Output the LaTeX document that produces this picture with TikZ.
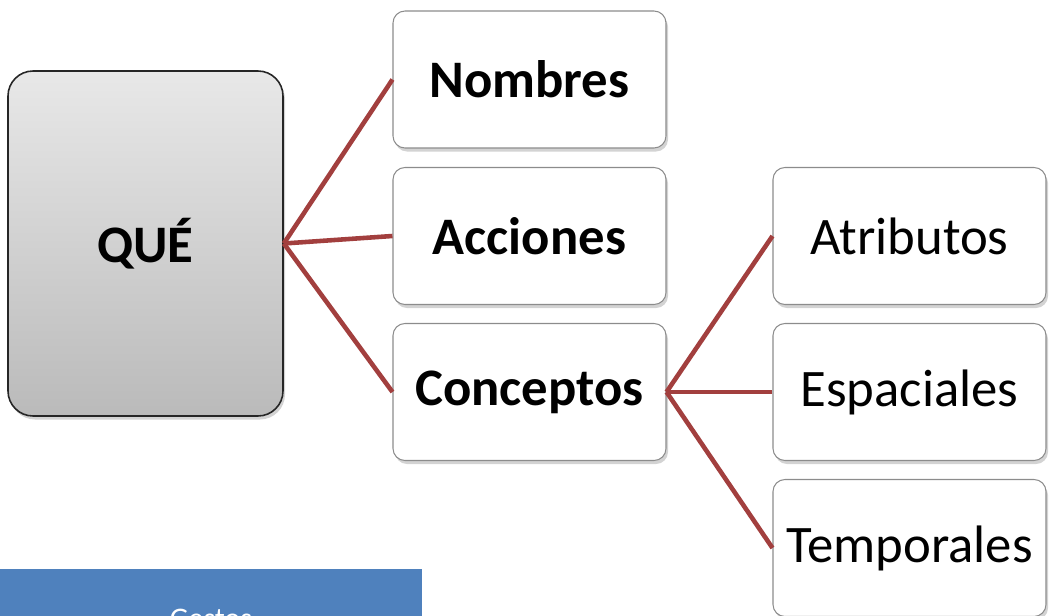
\documentclass[tikz,border=0pt]{standalone}
\usepackage{fontspec}
\setmainfont{Carlito}
\usetikzlibrary{shadows}

\definecolor{linkred}{HTML}{A23F3E}
\definecolor{boxblue}{HTML}{4F81BD}

\begin{document}
\begin{tikzpicture}[
  box/.style={draw=black!45, line width=0.6pt, rounded corners=0.24cm, fill=white,
    minimum width=5.46cm, minimum height=2.74cm, font=\fontsize{30}{36}\selectfont,
    drop shadow={opacity=0.35, shadow xshift=0.04cm, shadow yshift=-0.07cm}},
  main/.style={draw=black!85, line width=0.9pt, rounded corners=0.5cm,
    top color=black!9, bottom color=black!27, minimum width=5.5cm, minimum height=6.9cm,
    font=\fontsize{30}{36}\selectfont\bfseries,
    drop shadow={opacity=0.35, shadow xshift=0.04cm, shadow yshift=-0.07cm}},
  link/.style={draw=linkred, line width=2.6pt}
  ]
	\clip (0,0) rectangle (21,-12.32);

	\node[main] (que) at (2.91,-4.87) {QUÉ};

	\node[box, font=\fontsize{30}{36}\selectfont\bfseries] (nombres) at (10.59,-1.59) {Nombres};
	\node[box, font=\fontsize{30}{36}\selectfont\bfseries] (acciones) at (10.59,-4.72) {Acciones};
	\node[box, font=\fontsize{30}{36}\selectfont\bfseries] (conceptos) at (10.59,-7.84) {Conceptos};

	\node[box] (atributos) at (18.19,-4.72) {Atributos};
	\node[box] (espaciales) at (18.19,-7.84) {Espaciales};
	\node[box] (temporales) at (18.19,-10.96) {Temporales};

	\node[fill=boxblue, minimum width=8.44cm, minimum height=2.0cm, text=white,
	  font=\fontsize{17}{20}\selectfont] (gestos) at (4.22,-12.38) {Gestos};

	\draw[link] (que.east) -- (nombres.west);
	\draw[link] (que.east) -- (acciones.west);
	\draw[link] (que.east) -- (conceptos.west);

	\draw[link] (conceptos.east) -- (atributos.west);
	\draw[link] (conceptos.east) -- (espaciales.west);
	\draw[link] (conceptos.east) -- (temporales.west);
\end{tikzpicture}
\end{document}
